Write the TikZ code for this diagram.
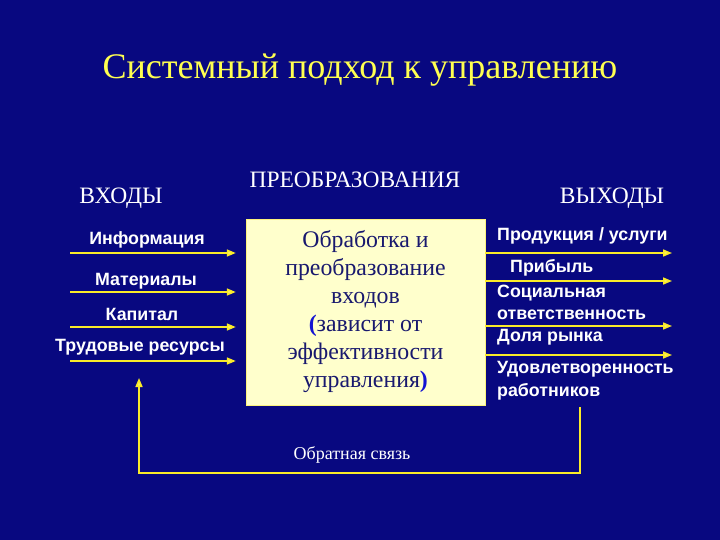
\documentclass[tikz,border=0pt]{standalone}
\usepackage{fontspec}
\setmainfont{Liberation Serif}
\setsansfont{Liberation Sans}
\usetikzlibrary{arrows.meta}
\definecolor{bg}{RGB}{8,8,128}
\definecolor{titleyellow}{RGB}{255,255,80}
\definecolor{arrowyellow}{RGB}{250,235,40}
\definecolor{boxfill}{RGB}{255,255,204}
\definecolor{boxtext}{RGB}{25,25,110}
\definecolor{paren}{RGB}{20,20,210}
\tikzset{
  arr/.style={draw=arrowyellow, line width=1.6pt, -{Triangle[length=9pt,width=7pt,fill=arrowyellow!70!white]}},
  lab/.style={text=white, font=\sffamily\bfseries\fontsize{17.8}{21}\selectfont, inner sep=0pt},
  head/.style={text=white, font=\fontsize{23.5}{28}\selectfont, inner sep=0pt},
  procbox/.style={draw=arrowyellow!60!white, fill=boxfill, minimum width=239pt, minimum height=186pt, inner sep=0pt, align=center, text=boxtext, font=\fontsize{23.8}{28}\selectfont}
}
\begin{document}
\begin{tikzpicture}[x=1pt,y=-1pt]
\fill[bg] (0,0) rectangle (720,540);
\useasboundingbox (0,0) rectangle (720,540);

\node[text=titleyellow, font=\fontsize{36}{42}\selectfont, inner sep=0pt] (title) at (360,70) {Системный\ подход\ к\ управлению};

\node[head] (vhody) at (121,198) {ВХОДЫ};
\node[head] (preobr) at (355,180) {ПРЕОБРАЗОВАНИЯ};
\node[head] (vyhody) at (612,198) {ВЫХОДЫ};

\node[procbox] (box) at (365.5,312) {Обработка и\\преобразование\\входов\\{\bfseries\color{paren}(}зависит от\\эффективности\\управления{\bfseries\color{paren})}};

% inputs
\coordinate (i1) at (70,253);
\coordinate (i2) at (70,292);
\coordinate (i3) at (70,327);
\coordinate (i4) at (70,361);
\foreach \n in {1,2,3,4}{
  \coordinate (i\n e) at ([xshift=-10pt]box.west |- i\n);
  \draw[arr] (i\n) -- (i\n e);
}
\node[lab] (l1) at (147,240) {Информация};
\node[lab] (l2) at (146,281) {Материалы};
\node[lab] (l3) at (142,314) {Капитал};
\node[lab] (l4) at (140,347) {Трудовые ресурсы};

% outputs
\coordinate (o1e) at (672,253);
\coordinate (o2e) at (672,281);
\coordinate (o3e) at (672,326);
\coordinate (o4e) at (672,355);
\foreach \n in {1,2,3,4}{
  \coordinate (o\n) at (box.east |- o\n e);
  \draw[arr] (o\n) -- (o\n e);
}
\node[lab, anchor=west] (r1) at (497,236) {Продукция / услуги};
\node[lab, anchor=west] (r2) at (510,268) {Прибыль};
\node[lab, anchor=west, align=left, font=\sffamily\bfseries\fontsize{17.8}{22}\selectfont] (r3) at (497,302) {Социальная\\ответственность};
\node[lab, anchor=west] (r4) at (497,337) {Доля рынка};
\node[lab, anchor=west, align=left, font=\sffamily\bfseries\fontsize{17.8}{23}\selectfont] (r5) at (497,381) {Удовлетворенность\\работников};

% feedback
\coordinate (fb0) at (580,407);
\coordinate (fb1) at (580,473);
\coordinate (fb2) at (139,473);
\coordinate (fb3) at (139,378);
\draw[arr] (fb0) -- (fb1) -- (fb2) -- (fb3);
\node[text=white, font=\fontsize{18}{21}\selectfont, inner sep=0pt] (fbl) at (352,455) {Обратная связь};
\end{tikzpicture}
\end{document}
